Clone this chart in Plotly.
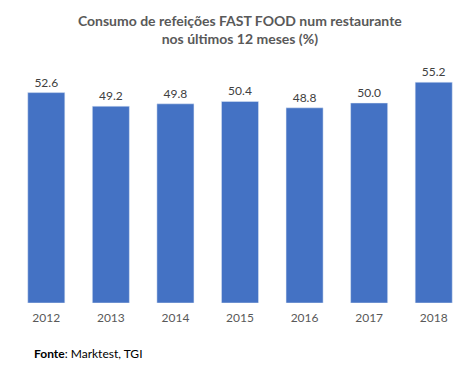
import plotly.graph_objects as go

years = ["2012", "2013", "2014", "2015", "2016", "2017", "2018"]
values = [52.6, 49.2, 49.8, 50.4, 48.8, 50.0, 55.2]
title_text = "Consumo de refeições FAST FOOD num restaurante<br>nos últimos 12 meses (%)"
source_text = "<b>Fonte</b>: Marktest, TGI"

fig = go.Figure(go.Bar(
    x=years, y=values,
    marker_color="#4472C4",
    width=0.574,
    text=[f"{v:.1f}" for v in values],
    textposition="outside",
    textfont=dict(size=12, color="#404040", family="Lato"),
    cliponaxis=False,
))

fig.update_layout(
    width=474, height=377,
    margin=dict(l=14, r=8, t=63, b=74),
    paper_bgcolor="white", plot_bgcolor="white",
    font=dict(family="Lato", color="#595959"),
    showlegend=False,
    title=dict(text="<b>" + title_text + "</b>", x=0.506, xanchor="center", y=0.931, yanchor="top",
               font=dict(size=14, color="#595959", family="Lato")),
    xaxis=dict(showline=False, ticks="", tickfont=dict(size=12, color="#595959"), showgrid=False,
               ticklabelstandoff=6),
    yaxis=dict(range=[0, 60], visible=False, showgrid=False),
    uniformtext=dict(minsize=8, mode="show"),
)
fig.add_annotation(text=source_text, xref="paper", yref="paper", x=0.04, y=-0.21,
                   xanchor="left", yanchor="middle", showarrow=False,
                   font=dict(size=12, color="#000000", family="Lato"))

fig.write_html("out.html", config={"displayModeBar": False},
               post_script="document.body.style.margin='0';")
